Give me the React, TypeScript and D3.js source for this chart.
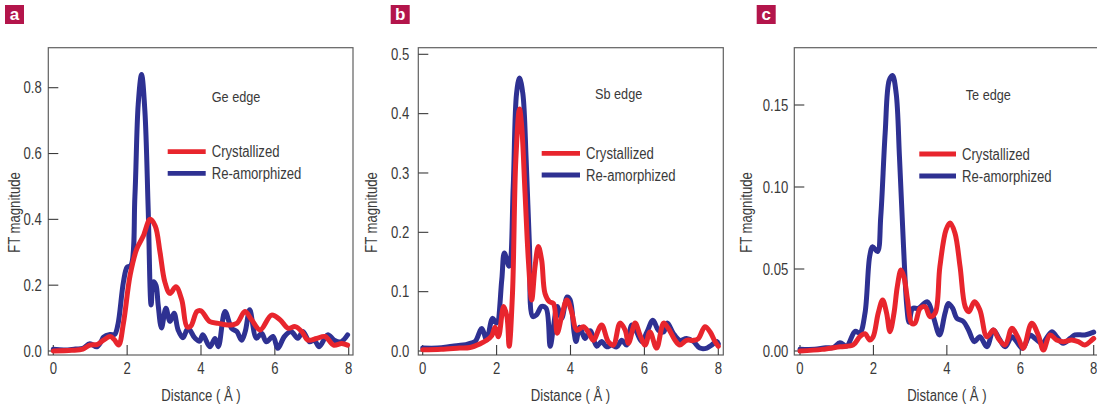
import React from "react";
import * as d3 from "d3";

type Pt = [number, number];

// Distance axis ticks (Å) shared by all panels
const distanceTicks = [0, 2, 4, 6, 8];

// Panel a — Ge edge
const geTicks = [0, 0.2, 0.4, 0.6, 0.8];
const geCrystallized: Pt[] = [[0,0.0],[0.5,0.002],[0.8,0.006],[0.99,0.018],[1.2,0.02],[1.36,0.033],[1.54,0.044],[1.65,0.035],[1.77,0.018],[1.9,0.085],[2.08,0.23],[2.26,0.31],[2.44,0.35],[2.62,0.40],[2.76,0.38],[2.89,0.30],[3.02,0.21],[3.16,0.175],[3.32,0.195],[3.48,0.155],[3.62,0.074],[3.72,0.075],[3.89,0.12],[4.0,0.122],[4.24,0.089],[4.47,0.084],[4.74,0.079],[4.97,0.084],[5.19,0.12],[5.37,0.095],[5.6,0.064],[5.91,0.109],[6.14,0.095],[6.36,0.069],[6.55,0.074],[6.73,0.059],[6.9,0.033],[7.13,0.038],[7.36,0.044],[7.59,0.018],[7.81,0.023],[7.97,0.018]];
const geReamorphized: Pt[] = [[0,0.005],[0.3,0.003],[0.6,0.006],[0.8,0.008],[0.99,0.022],[1.18,0.013],[1.3,0.03],[1.36,0.042],[1.54,0.05],[1.66,0.05],[1.75,0.08],[1.9,0.21],[2.0,0.255],[2.1,0.26],[2.21,0.47],[2.3,0.75],[2.39,0.84],[2.48,0.73],[2.57,0.43],[2.65,0.14],[2.71,0.21],[2.78,0.2],[2.84,0.14],[2.93,0.07],[3.05,0.13],[3.16,0.09],[3.27,0.115],[3.38,0.064],[3.51,0.04],[3.65,0.069],[3.83,0.04],[3.96,0.03],[4.05,0.049],[4.24,0.013],[4.38,0.038],[4.47,0.013],[4.65,0.12],[4.83,0.069],[4.97,0.059],[5.1,0.033],[5.2,0.06],[5.32,0.125],[5.5,0.039],[5.64,0.054],[5.77,0.028],[5.95,0.044],[6.08,0.008],[6.26,0.044],[6.44,0.059],[6.62,0.039],[6.76,0.059],[6.94,0.028],[7.07,0.033],[7.2,0.013],[7.43,0.049],[7.61,0.033],[7.79,0.028],[7.97,0.049]];

// Panel b — Sb edge
const sbTicks = [0, 0.1, 0.2, 0.3, 0.4, 0.5];
const sbCrystallized: Pt[] = [[0,0.002],[0.5,0.003],[1.0,0.005],[1.28,0.006],[1.55,0.012],[1.73,0.018],[1.87,0.026],[1.96,0.04],[2.05,0.024],[2.19,0.075],[2.28,0.058],[2.34,0.008],[2.43,0.097],[2.52,0.322],[2.62,0.408],[2.68,0.378],[2.77,0.266],[2.86,0.153],[2.95,0.086],[3.04,0.142],[3.13,0.176],[3.22,0.153],[3.31,0.097],[3.43,0.083],[3.54,0.08],[3.64,0.03],[3.76,0.058],[3.9,0.086],[4.03,0.066],[4.17,0.035],[4.35,0.041],[4.5,0.03],[4.62,0.018],[4.84,0.044],[5.02,0.016],[5.16,0.01],[5.34,0.047],[5.48,0.035],[5.57,0.013],[5.75,0.047],[5.88,0.027],[6.02,0.01],[6.15,0.032],[6.33,0.005],[6.52,0.047],[6.65,0.038],[6.83,0.018],[6.96,0.01],[7.14,0.018],[7.33,0.018],[7.46,0.021],[7.64,0.041],[7.78,0.032],[7.91,0.016],[8.0,0.008]];
const sbReamorphized: Pt[] = [[0,0.005],[0.4,0.005],[0.8,0.008],[1.1,0.01],[1.28,0.013],[1.42,0.016],[1.6,0.038],[1.73,0.019],[1.89,0.055],[2.0,0.047],[2.14,0.12],[2.21,0.165],[2.34,0.143],[2.45,0.277],[2.54,0.434],[2.62,0.46],[2.71,0.434],[2.8,0.322],[2.89,0.176],[2.98,0.058],[3.08,0.061],[3.22,0.075],[3.34,0.072],[3.45,0.008],[3.54,0.041],[3.64,0.075],[3.76,0.055],[3.91,0.091],[3.99,0.086],[4.1,0.03],[4.15,0.016],[4.25,0.04],[4.39,0.021],[4.53,0.034],[4.71,0.008],[4.84,0.016],[4.98,0.007],[5.11,0.01],[5.25,0.007],[5.39,0.018],[5.52,0.01],[5.66,0.044],[5.79,0.032],[5.93,0.016],[6.07,0.032],[6.23,0.052],[6.38,0.035],[6.52,0.032],[6.62,0.047],[6.78,0.03],[6.96,0.018],[7.14,0.021],[7.33,0.016],[7.5,0.005],[7.69,0.005],[7.82,0.01],[7.96,0.016],[8.0,0.012]];

// Panel c — Te edge
const teTicks = [0, 0.05, 0.1, 0.15];
const teCrystallized: Pt[] = [[0,0.0],[0.6,0.001],[1.09,0.0026],[1.45,0.0037],[1.63,0.0088],[1.77,0.0105],[1.9,0.0067],[1.99,0.0085],[2.13,0.023],[2.25,0.0311],[2.36,0.023],[2.45,0.0118],[2.56,0.023],[2.65,0.0392],[2.75,0.0494],[2.83,0.0453],[2.93,0.0311],[3.04,0.0169],[3.13,0.0169],[3.27,0.026],[3.41,0.027],[3.54,0.021],[3.68,0.023],[3.81,0.0514],[3.98,0.074],[4.09,0.078],[4.22,0.072],[4.36,0.0514],[4.5,0.027],[4.6,0.024],[4.75,0.0301],[4.9,0.025],[5.09,0.0087],[5.27,0.0128],[5.4,0.0077],[5.59,0.0037],[5.77,0.0138],[5.95,0.0077],[6.08,0.0016],[6.31,0.0169],[6.49,0.0098],[6.63,0.0006],[6.81,0.0098],[6.99,0.0067],[7.17,0.0057],[7.4,0.0067],[7.58,0.0057],[7.76,0.0037],[7.95,0.0067],[8.0,0.0077]];
const teReamorphized: Pt[] = [[0,0.001],[0.4,0.001],[0.7,0.002],[0.9,0.002],[1.09,0.005],[1.27,0.003],[1.5,0.012],[1.63,0.011],[1.77,0.023],[1.9,0.058],[1.98,0.0636],[2.11,0.0606],[2.2,0.082],[2.32,0.133],[2.43,0.165],[2.52,0.168],[2.62,0.157],[2.71,0.118],[2.82,0.0636],[2.91,0.027],[2.97,0.0175],[3.07,0.026],[3.22,0.026],[3.47,0.03],[3.63,0.021],[3.8,0.0098],[3.95,0.023],[4.04,0.029],[4.16,0.026],[4.27,0.02],[4.45,0.018],[4.59,0.0128],[4.75,0.0057],[4.9,0.0087],[5.09,0.0026],[5.27,0.0128],[5.42,0.0077],[5.59,0.0026],[5.77,0.0087],[5.9,0.0057],[6.06,0.0016],[6.27,0.0097],[6.4,0.0077],[6.59,0.0047],[6.86,0.0118],[6.99,0.0087],[7.17,0.0047],[7.36,0.0077],[7.49,0.0098],[7.76,0.0098],[8.0,0.0115]];

const seriesNames = ["Crystallized", "Re-amorphized"];

const RED = "#e8252d";
const BLUE = "#2e3192";
const INK = "#3a3a3a";
const FRAME = "#606060";
const BADGE = "#b3154b";
const FONT = "'Liberation Sans', Arial, sans-serif";
// horizontal squeeze that gives the regular face a condensed look
const NARROW = 0.82;

interface PanelSpec {
  letter: string;
  edge: string;
  ticks: number[];
  fmt: (v: number) => string;
  yMax: number;
  crystallized: Pt[];
  reamorphized: Pt[];
  frame: { left: number; right: number; top: number; bottom: number };
  xRange: [number, number];
  yRange: [number, number];
  badgeX: number;
  tickLabelGap: number;
  yLabelX: number;
  edgeX: number;
  edgeY: number;
  legendX: [number, number];
  legendY: [number, number];
}

const panels: PanelSpec[] = [
  {
    letter: "a", edge: "Ge edge", ticks: geTicks, fmt: d3.format(".1f"), yMax: 0.8,
    crystallized: geCrystallized, reamorphized: geReamorphized,
    frame: { left: 48.3, right: 353, top: 47.7, bottom: 355 },
    xRange: [53.3, 348.7], yRange: [351, 87.7],
    badgeX: 5, tickLabelGap: 6.5, yLabelX: 19.5,
    edgeX: 211.7, edgeY: 101.5, legendX: [167.7, 205.7], legendY: [151.7, 173.3],
  },
  {
    letter: "b", edge: "Sb edge", ticks: sbTicks, fmt: d3.format(".1f"), yMax: 0.5,
    crystallized: sbCrystallized, reamorphized: sbReamorphized,
    frame: { left: 418.3, right: 723.3, top: 47.7, bottom: 355 },
    xRange: [422.7, 718.3], yRange: [351, 54.3],
    badgeX: 390.7, tickLabelGap: 9, yLabelX: 377,
    edgeX: 595, edgeY: 99, legendX: [541.7, 580], legendY: [153.3, 175],
  },
  {
    letter: "c", edge: "Te edge", ticks: teTicks, fmt: d3.format(".2f"), yMax: 0.15,
    crystallized: teCrystallized, reamorphized: teReamorphized,
    frame: { left: 794.3, right: 1100, top: 47.7, bottom: 355 },
    xRange: [800, 1093.7], yRange: [351, 105],
    badgeX: 756.7, tickLabelGap: 6, yLabelX: 752,
    edgeX: 965.7, edgeY: 100, legendX: [919.3, 956], legendY: [154, 176],
  },
];

function Label({
  x,
  y,
  anchor = "start",
  size = 16,
  rotate = 0,
  dy,
  children,
}: {
  x: number;
  y: number;
  anchor?: "start" | "middle" | "end";
  size?: number;
  rotate?: number;
  dy?: string;
  children: React.ReactNode;
}) {
  return (
    <g transform={`translate(${x},${y}) rotate(${rotate}) scale(${NARROW},1)`}>
      <text x={0} y={0} dy={dy} textAnchor={anchor} fontSize={size} fill={INK} fontFamily={FONT}>
        {children}
      </text>
    </g>
  );
}

function Panel({ p }: { p: PanelSpec }) {
  const x = d3.scaleLinear().domain([0, 8]).range(p.xRange);
  const y = d3.scaleLinear().domain([0, p.yMax]).range(p.yRange);
  const line = d3
    .line<Pt>()
    .x((d) => x(d[0]))
    .y((d) => y(d[1]))
    .curve(d3.curveCatmullRom.alpha(0.5));
  const f = p.frame;
  const tickLen = 10;
  const cx = (p.xRange[0] + p.xRange[1]) / 2;
  const cy = 212.5;
  const lineStyle = {
    fill: "none",
    strokeWidth: 5,
    strokeLinejoin: "round" as const,
    strokeLinecap: "round" as const,
  };
  return (
    <g>
      {/* panel badge */}
      <rect x={p.badgeX} y={5} width={19} height={19} fill={BADGE} />
      <text
        x={p.badgeX + 9.5}
        y={20}
        textAnchor="middle"
        fill="#fff"
        fontFamily={FONT}
        fontWeight="bold"
        fontSize={17}
      >
        {p.letter}
      </text>

      {/* frame */}
      <rect
        x={f.left}
        y={f.top}
        width={f.right - f.left}
        height={f.bottom - f.top}
        fill="none"
        stroke={FRAME}
        strokeWidth={1.2}
      />

      {/* y ticks */}
      {p.ticks.map((t) => (
        <g key={"y" + t}>
          <line x1={f.left} x2={f.left + tickLen} y1={y(t)} y2={y(t)} stroke={INK} strokeWidth={1.1} />
          <Label x={f.left - p.tickLabelGap} y={y(t)} dy="0.35em" anchor="end">
            {p.fmt(t)}
          </Label>
        </g>
      ))}

      {/* x ticks */}
      {distanceTicks.map((t) => (
        <g key={"x" + t}>
          <line x1={x(t)} x2={x(t)} y1={f.bottom} y2={f.bottom - tickLen} stroke={INK} strokeWidth={1.1} />
          <Label x={x(t)} y={374} anchor="middle">
            {t}
          </Label>
        </g>
      ))}

      {/* axis titles */}
      <Label x={cx} y={401} anchor="middle">
        Distance ( Å )
      </Label>
      <Label x={p.yLabelX} y={cy} anchor="middle" rotate={-90}>
        FT magnitude
      </Label>

      {/* data */}
      <path d={line(p.reamorphized) ?? ""} stroke={BLUE} {...lineStyle} />
      <path d={line(p.crystallized) ?? ""} stroke={RED} {...lineStyle} />

      {/* annotation & legend */}
      <Label x={p.edgeX} y={p.edgeY} size={15.5}>
        {p.edge}
      </Label>
      {[RED, BLUE].map((c, i) => (
        <g key={c}>
          <line
            x1={p.legendX[0]}
            x2={p.legendX[1]}
            y1={p.legendY[i]}
            y2={p.legendY[i]}
            stroke={c}
            strokeWidth={4.8}
          />
          <Label x={p.legendX[1] + 6} y={p.legendY[i]} dy="0.36em">
            {seriesNames[i]}
          </Label>
        </g>
      ))}
    </g>
  );
}

export default function App() {
  return (
    <svg
      width={1097}
      height={409}
      style={{ position: "absolute", left: 0, top: 0, background: "#fff" }}
    >
      <rect width={1097} height={409} fill="#fff" />
      {panels.map((p) => (
        <Panel key={p.letter} p={p} />
      ))}
    </svg>
  );
}
